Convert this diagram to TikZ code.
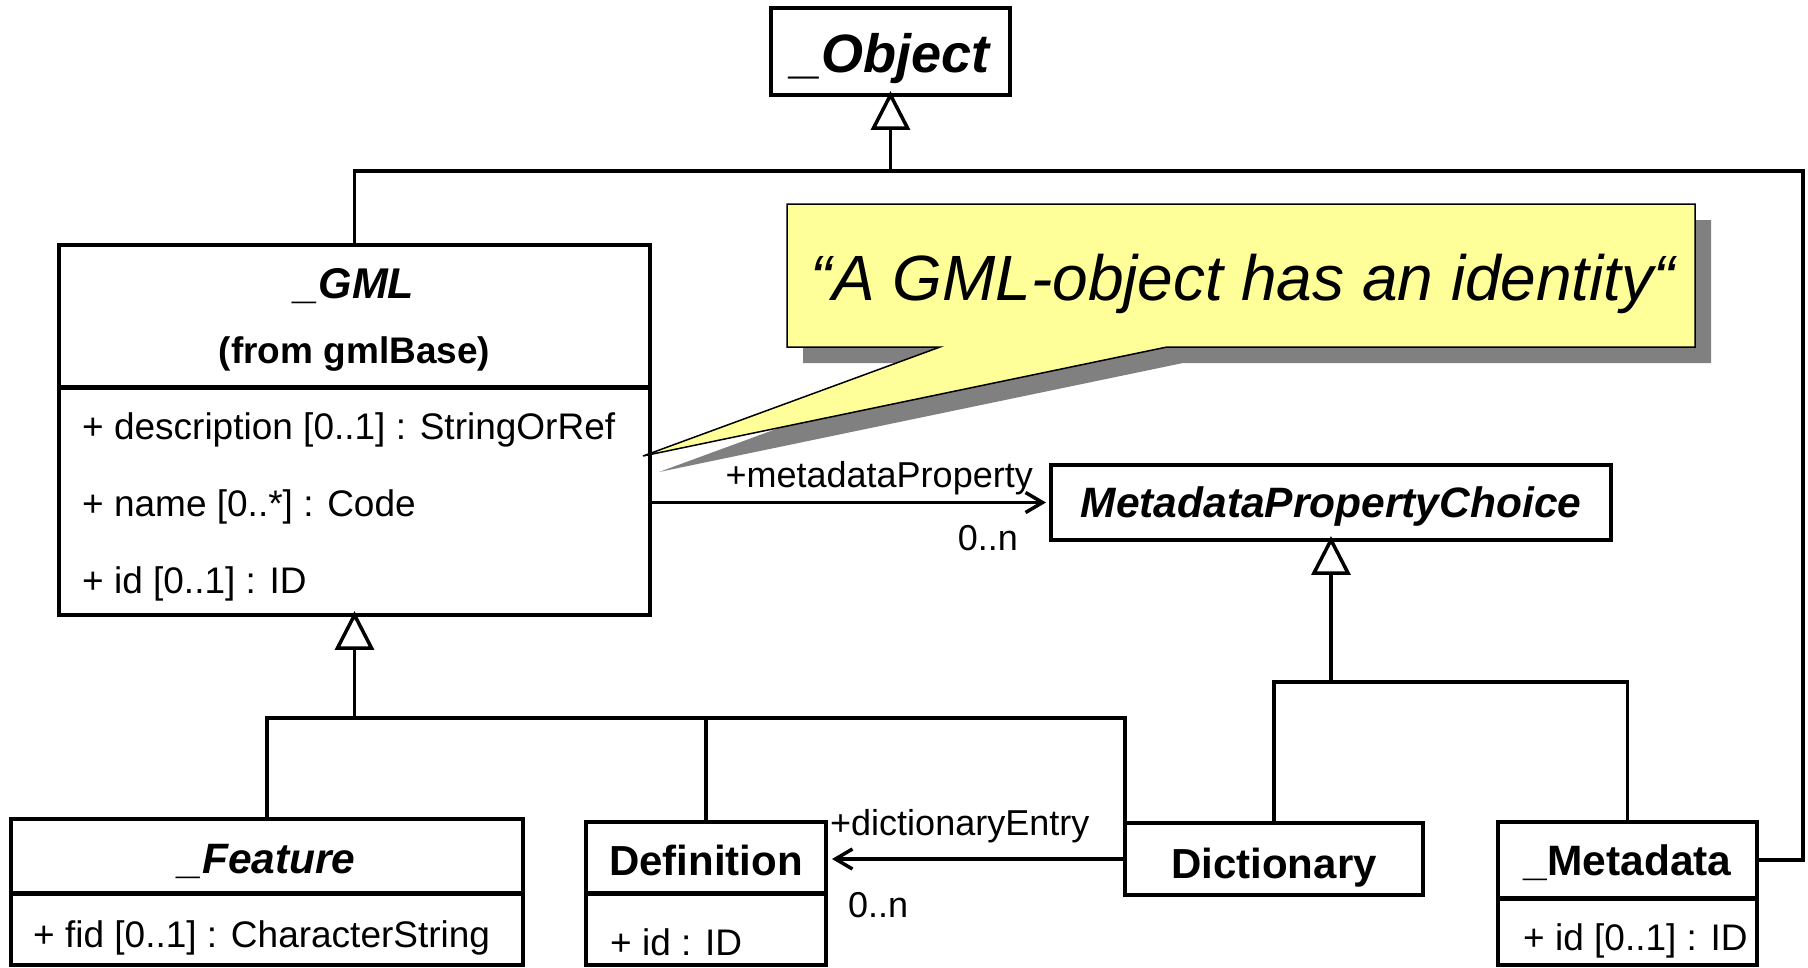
\documentclass[tikz,border=0pt]{standalone}
\usepackage{fontspec}
\setmainfont{Liberation Sans}
\usetikzlibrary{arrows.meta,calc}
\definecolor{noteyellow}{HTML}{FFFF99}
\definecolor{shadowgray}{HTML}{808080}
\newcommand\myfs[1]{\fontsize{#1pt}{#1pt}\selectfont}
\begin{document}
\begin{tikzpicture}[x=1pt,y=-1pt,
  box/.style={draw, line width=3.5pt, fill=white, inner sep=0pt, outer sep=0pt, anchor=north west},
  sep/.style={line width=5pt},
  bi/.style={font=\myfs{#1}\bfseries\itshape, anchor=base, inner sep=0pt},
  bd/.style={font=\myfs{#1}\bfseries, anchor=base, inner sep=0pt},
  att/.style={font=\myfs{37}, anchor=base west, inner sep=0pt},
  lbl/.style={font=\myfs{36}, inner sep=0pt},
  conn/.style={line width=3.5pt},
  gen/.style={line width=3.5pt, fill=white, line join=miter},
  assoc/.style={line width=3.5pt, -{Straight Barb[length=17pt,width=20pt]}},
]
\useasboundingbox (0,0) rectangle (1808,967);

% _Object
\node[box, minimum width=239pt, minimum height=87pt] (obj) at (771,8) {};
\node[bi=54] (objname) at (890.5,72) {\_Object};

% _GML
\node[box, minimum width=591pt, minimum height=142pt] (gmlH) at (59,245) {};
\node[box, minimum width=591pt, minimum height=228pt] (gmlA) at (59,387) {};
\draw[sep] (gmlA.north west) -- (gmlA.north east);
\node[bi=43] (gmlname) at (354.5,298) {\_GML};
\node[bd=37] (gmlfrom) at (354.5,363) {(from gmlBase)};
\node[att] (gmla1) at (82,439) {+ description [0..1] : StringOrRef};
\node[att] (gmla2) at (82,516) {+ name [0..*] : Code};
\node[att] (gmla3) at (82,593) {+ id [0..1] : ID};

% MetadataPropertyChoice
\node[box, minimum width=560pt, minimum height=75pt] (mpc) at (1051,465) {};
\node[bi=42.5] (mpcname) at (1331,517) {MetadataPropertyChoice};

% _Feature
\node[box, minimum width=512pt, minimum height=74pt] (featH) at (11,819) {};
\node[box, minimum width=512pt, minimum height=72pt] (featA) at (11,893) {};
\draw[sep] (featA.north west) -- (featA.north east);
\node[bi=42.5] (featname) at (267,873) {\_Feature};
\node[att] (feata1) at (33,947) {+ fid [0..1] : CharacterString};

% Definition
\node[box, minimum width=240pt, minimum height=71pt] (defH) at (586,822) {};
\node[box, minimum width=240pt, minimum height=72pt] (defA) at (586,893) {};
\draw[sep] (defA.north west) -- (defA.north east);
\node[bd=42] (defname) at (706,875) {Definition};
\node[att] (defa1) at (610,955) {+ id : ID};

% Dictionary
\node[box, minimum width=298pt, minimum height=72pt] (dict) at (1125,823) {};
\node[bd=42] (dictname) at (1274,878) {Dictionary};

% _Metadata
\node[box, minimum width=259pt, minimum height=76pt] (mdH) at (1498,822) {};
\node[box, minimum width=259pt, minimum height=67pt] (mdA) at (1498,898) {};
\draw[sep] (mdA.north west) -- (mdA.north east);
\node[bd=42.5] (mdname) at (1627.5,875) {\_Metadata};
\node[att] (mda1) at (1523,950) {+ id [0..1] : ID};

% generalization to _Object
\coordinate (objTB) at ($(obj.south)+(0,33)$);
\coordinate (j1) at ($(obj.south)+(0,76)$);
\coordinate (rt) at (1803,171);
\draw[conn] (objTB) -- (j1) -| (gmlH.north);
\draw[conn] (j1) -- (rt) |- (mdH.east);
\draw[gen] (obj.south) -- ++(-17,33) -- ++(34,0) -- cycle;

% generalization to _GML
\coordinate (g1) at ($(gmlA.south)+(0,33)$);
\coordinate (g2) at ($(gmlA.south)+(0,103)$);
\draw[conn] (g1) -- (g2);
\draw[conn] (featH.north) |- (g2);
\draw[conn] (g2) -| (dict.west);
\draw[conn] (defH.north) -- (defH.north |- g2);
\draw[gen] (gmlA.south) -- ++(-17,33) -- ++(34,0) -- cycle;

% generalization to MetadataPropertyChoice
\coordinate (m1) at ($(mpc.south)+(0,33)$);
\coordinate (m2) at ($(mpc.south)+(0,142)$);
\draw[conn] (m1) -- (m2);
\draw[conn] (dict.north) |- (m2) -| (mdH.north);
\draw[gen] (mpc.south) -- ++(-17,33) -- ++(34,0) -- cycle;

% associations
\draw[assoc, shorten >=5pt] (gmlA.east |- mpc.west) -- (mpc.west);
\node[lbl, anchor=base east] (mpl) at (1033,487) {+metadataProperty};
\node[lbl, anchor=base east] (mpm) at (1018,550) {0..n};
\draw[assoc, shorten >=6pt] (dict.west) -- (dict.west -| defH.east);
\node[lbl, anchor=base west] (del) at (830,835) {+dictionaryEntry};
\node[lbl, anchor=base west] (dem) at (848,917) {0..n};

% callout note
\fill[shadowgray] (803,220) -- (1711,220) -- (1711,363) -- (1183,363) -- (659,472) -- (956,363) -- (803,363) -- cycle;
\filldraw[fill=noteyellow, draw=black, line width=1.5pt, line join=miter] (787,204) -- (1695,204) -- (1695,347) -- (1167,347) -- (643,456) -- (940,347) -- (787,347) -- cycle;
\node[font=\myfs{64}\itshape, anchor=base, inner sep=0pt] (note) at (1243,300) {“A GML-object has an identity“};
\end{tikzpicture}
\end{document}
